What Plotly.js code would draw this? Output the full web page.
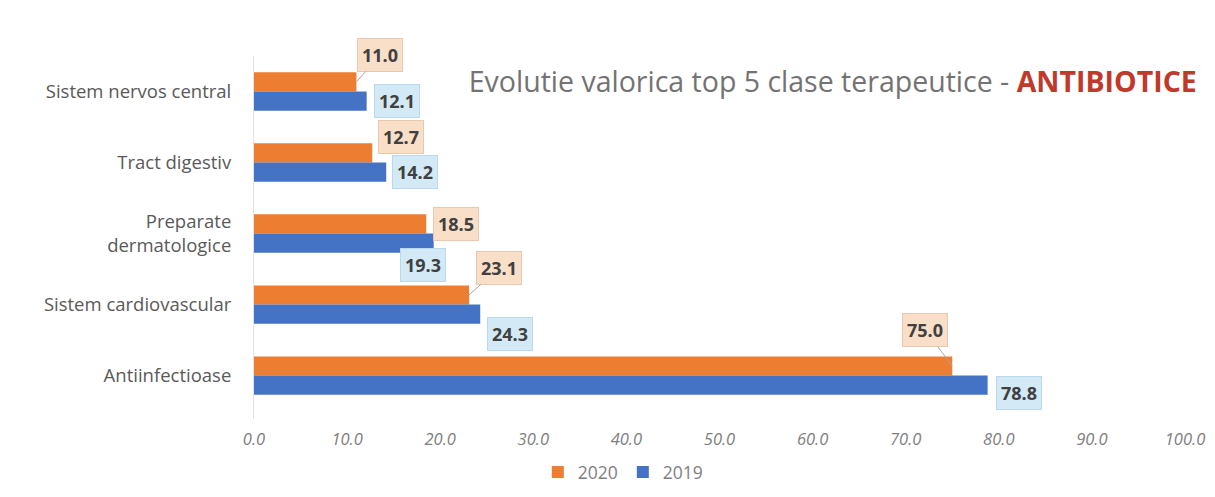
<!DOCTYPE html>
<html>
<head>
<meta charset="utf-8">
<script src="https://cdn.plot.ly/plotly-3.0.1.min.js"></script>
<style>html,body{margin:0;padding:0;background:#fff;}#chart{width:1215px;height:497px;}</style>
</head>
<body>
<div id="chart"></div>
<script>
// ---- data ----
const categories = ["Sistem nervos central", "Tract digestiv", "Preparate<br>dermatologice", "Sistem cardiovascular", "Antiinfectioase"];
const values2020 = [11.0, 12.7, 18.5, 23.1, 75.0];
const values2019 = [12.1, 14.2, 19.3, 24.3, 78.8];
const seriesNames = ["2020", "2019"];
const xTicks = [0, 10, 20, 30, 40, 50, 60, 70, 80, 90, 100];

// ---- label placement (pixels) ----
const place2020 = [
  {mode: 'arrow', ax: 24, ay: -27},
  {mode: 'left', dx: 6, dy: 16},
  {mode: 'left', dx: 7, dy: 0},
  {mode: 'arrow', ax: 30, ay: -27},
  {mode: 'arrow', ax: -27, ay: -36}
];
const place2019 = [
  {mode: 'left', dx: 7, dy: 0},
  {mode: 'left', dx: 6, dy: 0},
  {mode: 'center', dx: -11, dy: -22},
  {mode: 'left', dx: 7, dy: -20},
  {mode: 'left', dx: 8, dy: -8}
];

const colors = ["#ED7D31", "#4472C4"];
const labelBg = ["#F9DEC8", "#D3EAF6"];
const labelBorder = ["#E8C9AE", "#B9D9EC"];
const bargap = 0.46;
const half = (1 - bargap) / 4;

const traces = [
  {type: 'bar', orientation: 'h', name: seriesNames[0], y: categories, x: values2020,
   marker: {color: colors[0]}, hoverinfo: 'x'},
  {type: 'bar', orientation: 'h', name: seriesNames[1], y: categories, x: values2019,
   marker: {color: colors[1]}, hoverinfo: 'x'}
];

function makeLabels(vals, places, s) {
  return vals.map((v, i) => {
    const p = places[i];
    const yPos = i + (s === 0 ? -half : half);
    const a = {
      x: v, y: yPos, xref: 'x', yref: 'y',
      text: v.toFixed(1),
      font: {family: 'Open Sans, sans-serif', size: 18, color: '#404040', weight: 700},
      bgcolor: labelBg[s], bordercolor: labelBorder[s], borderwidth: 1, borderpad: 4
    };
    if (p.mode === 'arrow') {
      a.showarrow = true; a.arrowhead = 0; a.arrowwidth = 1; a.arrowcolor = '#A6A6A6';
      a.ax = p.ax; a.ay = p.ay; a.standoff = 0; a.startstandoff = 0;
    } else {
      a.showarrow = false;
      a.xanchor = p.mode === 'left' ? 'left' : 'center';
      a.yanchor = 'middle';
      a.xshift = p.dx; a.yshift = p.dy;
    }
    return a;
  });
}

const annotations = [].concat(makeLabels(values2020, place2020, 0), makeLabels(values2019, place2019, 1));

const layout = {
  width: 1215, height: 497,
  margin: {l: 254, r: 30, t: 56, b: 78},
  paper_bgcolor: '#ffffff', plot_bgcolor: '#ffffff',
  barmode: 'group', bargap: bargap, bargroupgap: 0,
  showlegend: true,
  title: {
    text: "Evolutie valorica top 5 clase terapeutice - <b><span style='color:#C0392B'>ANTIBIOTICE</span></b>",
    font: {family: 'Open Sans, sans-serif', size: 28.5, color: '#737373'},
    xref: 'container', x: 0.985, xanchor: 'right',
    yref: 'container', y: 0.835, yanchor: 'middle'
  },
  xaxis: {
    range: [0, 100], tickvals: xTicks, tickformat: '.1f',
    showgrid: false, zeroline: false, showline: false,
    tickfont: {family: 'Open Sans, sans-serif', size: 16.5, color: '#808080', style: 'italic'},
    ticklabelstandoff: 8, fixedrange: true
  },
  yaxis: {
    autorange: 'reversed', type: 'category',
    showgrid: false, zeroline: false, showline: true, linecolor: '#E3E3E3', linewidth: 1,
    tickfont: {family: 'Open Sans, sans-serif', size: 18.5, color: '#595959'},
    ticklabelstandoff: 18, fixedrange: true
  },
  legend: {
    orientation: 'h', xref: 'container', yref: 'container',
    x: 0.513, xanchor: 'center', y: 0.05, yanchor: 'middle',
    font: {family: 'Open Sans, sans-serif', size: 17.5, color: '#7F7F7F'},
    itemwidth: 30, traceorder: 'normal'
  },
  annotations: annotations
};

Plotly.newPlot('chart', traces, layout, {displayModeBar: false, staticPlot: true});
</script>
</body>
</html>
